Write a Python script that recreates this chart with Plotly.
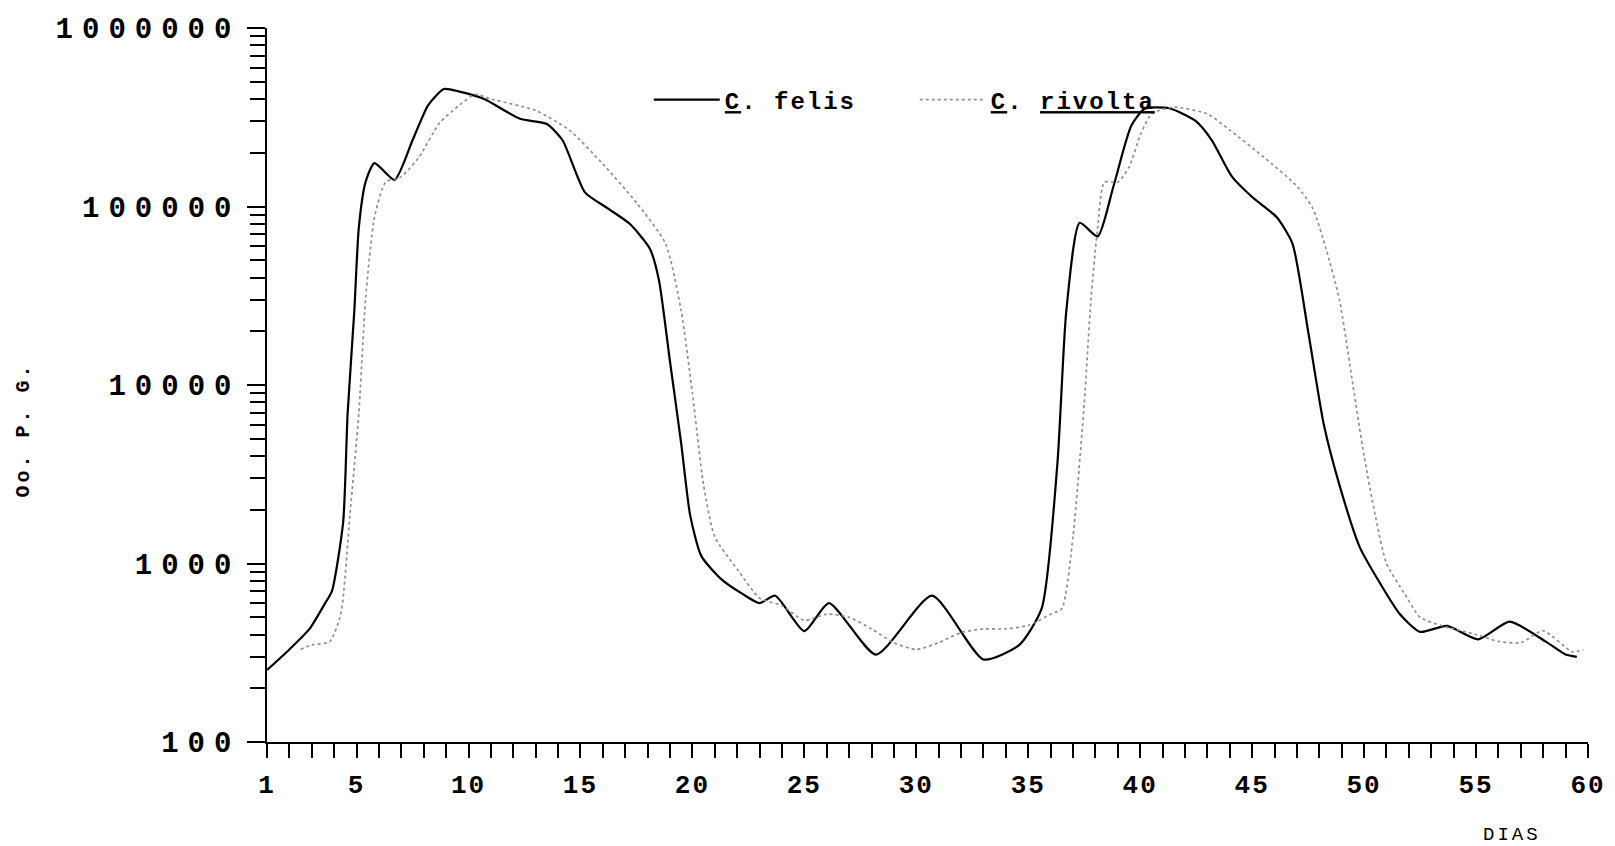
import plotly.graph_objects as go

# Oocyst counts per gram of faeces over the sampling period
felis_days = [1, 2, 2.9, 3.6, 3.9, 4.4, 4.6, 4.9, 5.1, 5.4, 5.8, 6.7, 7.5, 8.2, 8.9,
              9.6, 10.7, 12.3, 13.5, 14.2, 15.2, 16.2, 17.2, 18.1, 18.5, 19, 19.5,
              19.9, 20.4, 21.3, 22.2, 23, 23.7, 25, 26.1, 28.2, 30.7, 33, 34.6, 35.6,
              36.3, 36.7, 37.3, 38.1, 38.8, 39.6, 40.2, 41.3, 42.5, 43.2, 44.1, 45,
              46.1, 46.8, 47.5, 48.2, 48.9, 49.8, 50.7, 51.6, 52.5, 53.7, 55.1, 56.5,
              58.1, 59, 59.5]
felis_vals = [253, 330, 430, 600, 700, 1700, 6900, 26000, 76000, 137000, 175000,
              141000, 235000, 370000, 455000, 440000, 400000, 310000, 290000, 235000,
              120000, 98000, 80000, 58000, 39000, 13500, 4700, 1860, 1100, 815, 680,
              600, 660, 418, 600, 309, 660, 290, 350, 560, 3600, 26000, 81000, 68000,
              129000, 283000, 353000, 355000, 300000, 235000, 147000, 113000, 87000,
              62000, 20000, 6000, 2750, 1240, 780, 520, 414, 447, 376, 472, 366, 309,
              300]

rivolta_days = [2.5, 3, 3.8, 4.3, 4.7, 5.1, 5.4, 5.8, 6.3, 7, 7.8, 8.7, 9.6, 10.3, 11,
                13, 14.5, 16, 17.5, 18.8, 19.5, 20, 20.5, 21, 22, 23, 24, 25, 26, 27,
                28, 29, 30, 31, 32, 33, 34, 35, 36, 36.5, 37, 37.5, 37.8, 38.1, 38.4,
                39, 39.5, 40, 40.5, 41.5, 43, 44, 45.5, 47, 47.7, 48.3, 48.9, 49.5, 50,
                50.5, 51, 51.8, 52.5, 53.5, 55, 56, 57, 58, 59.3, 59.8]
rivolta_vals = [330, 350, 365, 525, 1850, 6900, 30000, 87000, 137000, 147000, 190000,
                293000, 370000, 425000, 400000, 345000, 268000, 173000, 105000, 62000,
                26000, 9000, 2750, 1410, 930, 640, 580, 480, 520, 500, 430, 360, 330,
                360, 410, 430, 430, 450, 520, 560, 1420, 7900, 30000, 76000, 137000,
                137000, 166000, 250000, 330000, 360000, 330000, 268000, 190000, 130000,
                98000, 58000, 30000, 10000, 4000, 1860, 1000, 680, 500, 447, 400, 366,
                360, 420, 320, 330]

x_tickvals = [1, 5, 10, 15, 20, 25, 30, 35, 40, 45, 50, 55, 60]

MONO = "Liberation Mono"

fig = go.Figure()
fig.add_trace(go.Scatter(
    x=felis_days, y=felis_vals, mode="lines",
    name='<span style="text-decoration:underline">C</span>. felis',
    line=dict(color="black", width=2.2, shape="spline", smoothing=0.6),
))
fig.add_trace(go.Scatter(
    x=rivolta_days, y=rivolta_vals, mode="lines",
    name='<span style="text-decoration:underline">C</span>. '
         '<span style="text-decoration:underline">rivolta</span>',
    line=dict(color="#8f8f8f", width=1.7, dash="dot", shape="spline", smoothing=0.6),
))

fig.update_layout(
    width=1615, height=846,
    margin=dict(l=267, r=27, t=28, b=104),
    paper_bgcolor="white", plot_bgcolor="white",
    showlegend=True,
    legend=dict(
        orientation="h", x=0.289, y=0.899, xanchor="left", yanchor="middle",
        font=dict(family=MONO, size=24, color="black", weight="bold"),
        bgcolor="rgba(0,0,0,0)", itemwidth=66,
        entrywidth=185, entrywidthmode="pixels",
    ),
    xaxis=dict(
        range=[1, 60], showgrid=False, zeroline=False,
        showline=True, linecolor="black", linewidth=1.5,
        tickmode="array", tickvals=x_tickvals, ticktext=[str(v) for v in x_tickvals],
        ticks="outside", ticklen=14, tickwidth=1.5, tickcolor="black",
        ticklabelstandoff=4,
        tickfont=dict(family=MONO, size=26, color="black", weight="bold"),
        minor=dict(dtick=1, tick0=1, ticks="outside", ticklen=14, tickwidth=1.5,
                   tickcolor="black", showgrid=False),
    ),
    yaxis=dict(
        type="log", range=[2, 6], showgrid=False, zeroline=False,
        showline=True, linecolor="black", linewidth=1.5,
        dtick=1, tickformat="d", exponentformat="none",
        ticks="outside", ticklen=18, tickwidth=1.5, tickcolor="black",
        ticklabelstandoff=1,
        tickfont=dict(family=MONO, size=29, color="black", weight="bold"),
        minor=dict(dtick="D1", ticks="outside", ticklen=15, tickwidth=1.5,
                   tickcolor="black", showgrid=False),
    ),
    annotations=[
        dict(text="Oo. P. G.", xref="paper", yref="paper",
             x=(23 - 267) / 1321, y=(742 - 430) / 714,
             xanchor="center", yanchor="middle", textangle=-90, showarrow=False,
             font=dict(family=MONO, size=20, color="black", weight="bold")),
        dict(text="DIAS", xref="paper", yref="paper",
             x=(1512 - 267) / 1321, y=(742 - 835) / 714,
             xanchor="center", yanchor="middle", showarrow=False,
             font=dict(family=MONO, size=19, color="black")),
    ],
)

# Typewriter-style letter spacing for the axis and legend lettering
spacing_js = """
var gd = document.getElementById('{plot_id}');
function spaceOut() {
  gd.querySelectorAll('.ytick text').forEach(function(t){ t.style.letterSpacing = '9px'; });
  gd.querySelectorAll('.xtick text').forEach(function(t){ t.style.letterSpacing = '2px'; });
  gd.querySelectorAll('.legendtext').forEach(function(t){ t.style.letterSpacing = '2px'; });
  gd.querySelectorAll('.annotation-text').forEach(function(t){ t.style.letterSpacing = '3px'; });
}
spaceOut();
gd.on('plotly_afterplot', spaceOut);
"""

fig.write_html("out.html", post_script=spacing_js)
